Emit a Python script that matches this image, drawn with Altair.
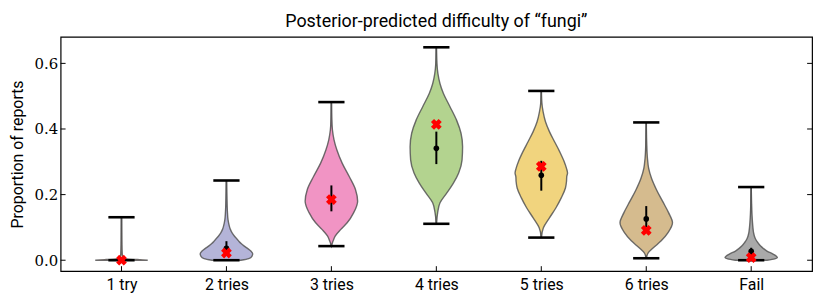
import json
import pandas as pd
import altair as alt

# ---------------- data ----------------
categories = ["1 try", "2 tries", "3 tries", "4 tries", "5 tries", "6 tries", "Fail"]
positions = [1, 2, 3, 4, 5, 6, 7]
fill_colors = ["#f4b49a", "#b4b4d8", "#f194c4", "#b3d38f", "#f1d47e", "#d5bb8e", "#a9a9a9"]

mins = [0.0, 0.0, 0.043, 0.111, 0.069, 0.006, 0.0]
maxs = [0.131, 0.243, 0.482, 0.649, 0.516, 0.420, 0.223]
medians = [0.0, 0.036, 0.182, 0.341, 0.259, 0.126, 0.027]
err_lo = [0.0, 0.014, 0.149, 0.293, 0.212, 0.101, 0.008]
err_hi = [0.003, 0.058, 0.228, 0.392, 0.303, 0.165, 0.038]
observed = [0.0, 0.022, 0.185, 0.414, 0.286, 0.091, 0.008]

# violin profiles: value, relative half-width (1 = widest)
try1_v = [0.0, 0.002, 0.004, 0.008, 0.02, 0.05, 0.09, 0.131]
try1_w = [1.0, 0.6, 0.2, 0.06, 0.025, 0.01, 0.004, 0.0]
try2_v = [0.0, 0.005, 0.012, 0.02, 0.028, 0.036, 0.043, 0.05, 0.057, 0.064, 0.074,
          0.084, 0.094, 0.104, 0.124, 0.15, 0.19, 0.243]
try2_w = [0.55, 0.85, 0.97, 1.0, 0.93, 0.8, 0.68, 0.57, 0.48, 0.41, 0.3,
          0.21, 0.15, 0.11, 0.06, 0.035, 0.015, 0.0]
try3_v = [0.043, 0.06, 0.074, 0.094, 0.114, 0.145, 0.18, 0.215, 0.255, 0.296,
          0.336, 0.367, 0.397, 0.43, 0.482]
try3_w = [0.0, 0.07, 0.15, 0.36, 0.6, 0.85, 1.0, 0.92, 0.68, 0.41,
          0.21, 0.1, 0.04, 0.012, 0.0]
try4_v = [0.111, 0.145, 0.175, 0.205, 0.235, 0.266, 0.306, 0.346, 0.387, 0.427,
          0.468, 0.508, 0.538, 0.569, 0.60, 0.649]
try4_w = [0.0, 0.05, 0.14, 0.4, 0.65, 0.85, 0.98, 1.0, 0.94, 0.77,
          0.52, 0.27, 0.14, 0.06, 0.02, 0.0]
try5_v = [0.069, 0.099, 0.129, 0.16, 0.19, 0.22, 0.24, 0.255, 0.266, 0.28, 0.301,
          0.331, 0.362, 0.392, 0.422, 0.452, 0.48, 0.516]
try5_w = [0.0, 0.08, 0.31, 0.56, 0.76, 0.92, 0.96, 0.97, 1.0, 0.96, 0.87,
          0.7, 0.5, 0.31, 0.16, 0.07, 0.02, 0.0]
try6_v = [0.006, 0.023, 0.038, 0.059, 0.084, 0.114, 0.145, 0.18, 0.215, 0.25,
          0.281, 0.311, 0.36, 0.42]
try6_w = [0.0, 0.08, 0.27, 0.57, 0.83, 1.0, 0.85, 0.62, 0.39, 0.2,
          0.09, 0.045, 0.015, 0.0]
fail_v = [0.0, 0.004, 0.008, 0.013, 0.018, 0.028, 0.036, 0.043, 0.054, 0.064,
          0.074, 0.084, 0.1, 0.114, 0.14, 0.18, 0.223]
fail_w = [0.6, 0.9, 1.0, 0.95, 0.85, 0.6, 0.46, 0.36, 0.25, 0.17,
          0.12, 0.09, 0.065, 0.05, 0.03, 0.013, 0.0]

y_ticks = [0.0, 0.2, 0.4, 0.6]

# ---------------- build tables ----------------
profiles = [(try1_v, try1_w), (try2_v, try2_w), (try3_v, try3_w), (try4_v, try4_w),
            (try5_v, try5_w), (try6_v, try6_w), (fail_v, fail_w)]
HALF = 0.25   # violin half width in x units
CAP = 0.125   # cap half length

rows = []
for cat, pos, (vs, ws) in zip(categories, positions, profiles):
    for v, w in zip(vs, ws):
        rows.append({"cat": cat, "v": v, "left": pos - HALF * w, "right": pos + HALF * w})
violin_df = pd.DataFrame(rows)

summary_df = pd.DataFrame({
    "cat": categories, "pos": positions, "vmin": mins, "vmax": maxs,
    "med": medians, "lo": err_lo, "hi": err_hi, "obs": observed,
    "capl": [p - CAP for p in positions], "capr": [p + CAP for p in positions],
})
ytick_df = pd.DataFrame({"v": y_ticks})

W, H = 757, 236
xscale = alt.Scale(domain=[0.42, 7.58], nice=False, zero=False)
yscale = alt.Scale(domain=[-0.0333, 0.6808], nice=False, zero=False)

label_expr = f"{json.dumps(categories)}[datum.value - 1]"
xaxis = alt.Axis(values=positions, labelExpr=label_expr, ticks=False, domain=False,
                 grid=False, labelFont="Roboto", labelFontSize=16, labelColor="black",
                 labelPadding=5, title="")
yaxis = alt.Axis(values=y_ticks, format=".1f", ticks=False, domain=False, grid=False,
                 labelFont="DejaVu Serif", labelFontSize=15, labelColor="black",
                 labelPadding=3, title="Proportion of reports", titleFont="Roboto",
                 titleFontSize=16, titleFontWeight="normal", titleColor="black",
                 titlePadding=9)


def X(field):
    return alt.X(field, type="quantitative", scale=xscale, axis=xaxis)


def Y(field):
    return alt.Y(field, type="quantitative", scale=yscale, axis=yaxis)


violins = alt.Chart(violin_df).mark_area(
    orient="horizontal", stroke="#555555", strokeWidth=1.4, strokeOpacity=0.85,
    opacity=1, interpolate="monotone"
).encode(
    y=Y("v"),
    x=X("left"),
    x2="right",
    color=alt.Color("cat:N", scale=alt.Scale(domain=categories, range=fill_colors), legend=None),
)

base = alt.Chart(summary_df)

bars = base.mark_rule(color="#3a3a3a", strokeWidth=1.6).encode(x=X("pos"), y=Y("vmin"), y2="vmax")
cap_min = base.mark_rule(color="black", strokeWidth=2.6).encode(x=X("capl"), x2="capr", y=Y("vmin"))
cap_max = base.mark_rule(color="black", strokeWidth=2.6).encode(x=X("capl"), x2="capr", y=Y("vmax"))
err = base.mark_rule(color="black", strokeWidth=2).encode(x=X("pos"), y=Y("lo"), y2="hi")
med = base.mark_circle(color="black", size=32, opacity=1).encode(x=X("pos"), y=Y("med"))
obs = base.mark_point(shape="cross", angle=45, filled=True, color="red", size=120,
                      opacity=1).encode(x=X("pos"), y=Y("obs"))

tick_l = alt.Chart(ytick_df).mark_rule(color="black", strokeWidth=1).encode(
    y=Y("v"), x=alt.value(0), x2=alt.value(5))
tick_r = alt.Chart(ytick_df).mark_rule(color="black", strokeWidth=1).encode(
    y=Y("v"), x=alt.value(W - 5), x2=alt.value(W))
xtick_df = pd.DataFrame({"pos": positions})
tick_b = alt.Chart(xtick_df).mark_rule(color="black", strokeWidth=1).encode(
    x=X("pos"), y=alt.value(H - 5), y2=alt.value(H))

chart = alt.layer(
    bars, violins, cap_min, cap_max, err, med, obs, tick_l, tick_r, tick_b
).properties(
    width=W, height=H,
    title=alt.Title("Posterior-predicted difficulty of \u201cfungi\u201d", font="Roboto",
                    fontSize=18, fontWeight="normal", color="black", anchor="middle",
                    offset=6),
    autosize=alt.AutoSizeParams(type="none"),
    padding={"left": 53, "top": 28, "right": 10, "bottom": 30},
).configure_view(stroke="black", strokeWidth=1.2)

chart.save("out.html", embed_options={"renderer": "svg", "actions": False})
